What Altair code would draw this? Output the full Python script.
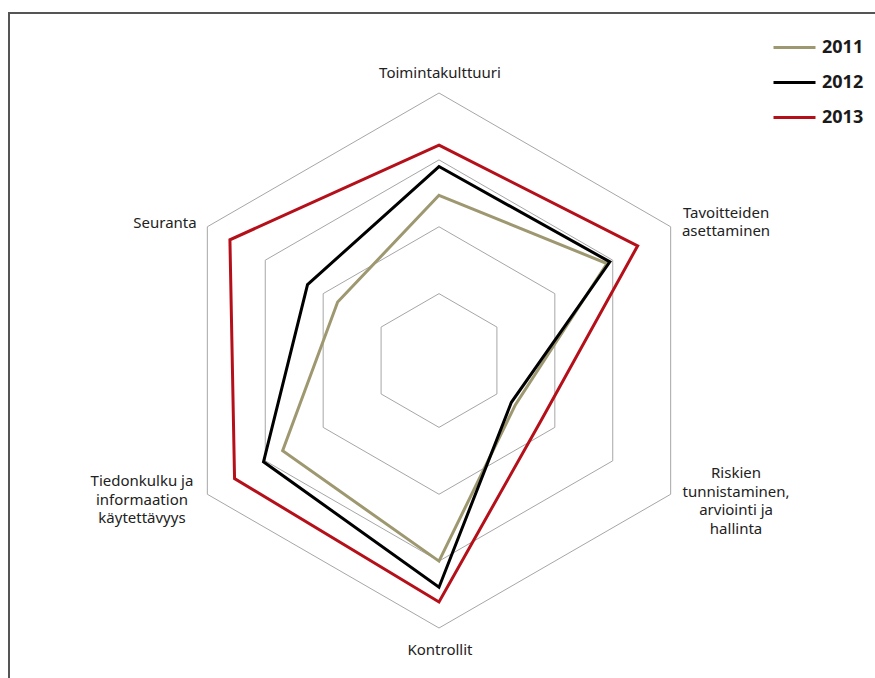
import altair as alt
import pandas as pd

# ---------------- data ----------------
categories = [
    "Toimintakulttuuri",
    "Tavoitteiden asettaminen",
    "Riskien tunnistaminen, arviointi ja hallinta",
    "Kontrollit",
    "Tiedonkulku ja informaation käytettävyys",
    "Seuranta",
]
label_text = [
    "Toimintakulttuuri",
    "Tavoitteiden\nasettaminen",
    "Riskien\ntunnistaminen,\narviointi ja\nhallinta",
    "Kontrollit",
    "Tiedonkulku ja\ninformaation\nkäytettävyys",
    "Seuranta",
]
years = ["2011", "2012", "2013"]
v2011 = [3.47, 3.90, 2.32, 4.00, 3.70, 2.75]
v2012 = [3.90, 3.95, 2.25, 4.39, 4.03, 3.27]
v2013 = [4.22, 4.43, 2.77, 4.61, 4.53, 4.61]
grid_levels = [2, 3, 4, 5]
scale_min = 1

colors = ["#9e9870", "#000000", "#b5101a"]

# ---------------- layout ----------------
W, H = 875, 678
CX, CY = 439, 360.5
UNIT = 66.875  # px per scale unit
label_r = 4.3
label_shift_x = [1, 38, 48, 1, -48, -25]      # px
label_shift_y = [0, 5.3, -3.3, 2, -4.3, 6.3]  # px, positive = down
LINE_H = 18.5
FONT = "Noto Sans"

# ---------------- tables ----------------
series_rows = []
for yr, vals in zip(years, [v2011, v2012, v2013]):
    for i, (c, v) in enumerate(zip(categories, vals)):
        series_rows.append({"year": yr, "idx": i, "category": c, "value": v})
series_df = pd.DataFrame(series_rows)

grid_df = pd.DataFrame(
    [{"level": lv, "idx": i} for lv in grid_levels for i in range(len(categories))]
)

label_df = pd.DataFrame(
    {
        "idx": list(range(len(categories))),
        "text": label_text,
        "nlines": [t.count("\n") + 1 for t in label_text],
        "sx": label_shift_x,
        "sy": label_shift_y,
    }
)

xscale = alt.Scale(domain=[-CX / UNIT, (W - CX) / UNIT], nice=False, zero=False)
yscale = alt.Scale(domain=[-(H - CY) / UNIT, CY / UNIT], nice=False, zero=False)
ANG = "PI/2 - datum.idx*PI/3"

grid = (
    alt.Chart(grid_df)
    .transform_calculate(r=f"datum.level - {scale_min}", a=ANG)
    .transform_calculate(x="datum.r*cos(datum.a)", y="datum.r*sin(datum.a)")
    .mark_line(interpolate="linear-closed", color="#a6a6a6", strokeWidth=1)
    .encode(
        x=alt.X("x:Q", scale=xscale, axis=None),
        y=alt.Y("y:Q", scale=yscale, axis=None),
        detail="level:N",
        order="idx:Q",
    )
)

lines = (
    alt.Chart(series_df)
    .transform_calculate(r=f"datum.value - {scale_min}", a=ANG)
    .transform_calculate(x="datum.r*cos(datum.a)", y="datum.r*sin(datum.a)")
    .mark_line(interpolate="linear-closed", strokeWidth=3)
    .encode(
        x=alt.X("x:Q", scale=xscale, axis=None),
        y=alt.Y("y:Q", scale=yscale, axis=None),
        color=alt.Color(
            "year:N",
            scale=alt.Scale(domain=years, range=colors),
            legend=alt.Legend(
                orient="none",
                legendX=772,
                legendY=25,
                title=None,
                symbolType="stroke",
                symbolSize=1764,
                symbolStrokeWidth=3,
                labelFontSize=18,
                labelFont=FONT,
                labelFontWeight="bold",
                labelColor="#1a1a1a",
                labelOffset=5,
                rowPadding=3,
                padding=0,
            ),
        ),
        order="idx:Q",
    )
)

labels = (
    alt.Chart(label_df)
    .transform_calculate(a=ANG)
    .transform_calculate(
        x=f"{label_r}*cos(datum.a) + datum.sx/{UNIT}",
        y=f"{label_r}*sin(datum.a) - datum.sy/{UNIT} + (datum.nlines-1)*{LINE_H}/2/{UNIT}",
    )
    .mark_text(
        font=FONT,
        fontSize=15,
        color="#222222",
        align="center",
        baseline="middle",
        lineBreak="\n",
        lineHeight=LINE_H,
    )
    .encode(
        x=alt.X("x:Q", scale=xscale, axis=None),
        y=alt.Y("y:Q", scale=yscale, axis=None),
        text="text:N",
    )
)

frame_df = pd.DataFrame({"k": [0]})
frame_left = alt.Chart(frame_df).mark_rule(color="#555555", strokeWidth=2).encode(
    x=alt.value(9), y=alt.value(12), y2=alt.value(H)
)
frame_top = alt.Chart(frame_df).mark_rule(color="#555555", strokeWidth=2).encode(
    x=alt.value(8), x2=alt.value(W), y=alt.value(13)
)

chart = (
    alt.layer(grid, frame_left, frame_top, lines, labels)
    .properties(
        width=W,
        height=H,
        autosize=alt.AutoSizeParams(type="none"),
        padding=0,
        background="white",
    )
    .configure_view(stroke=None)
)

chart.save("out.html", embed_options={"renderer": "svg", "actions": False})
